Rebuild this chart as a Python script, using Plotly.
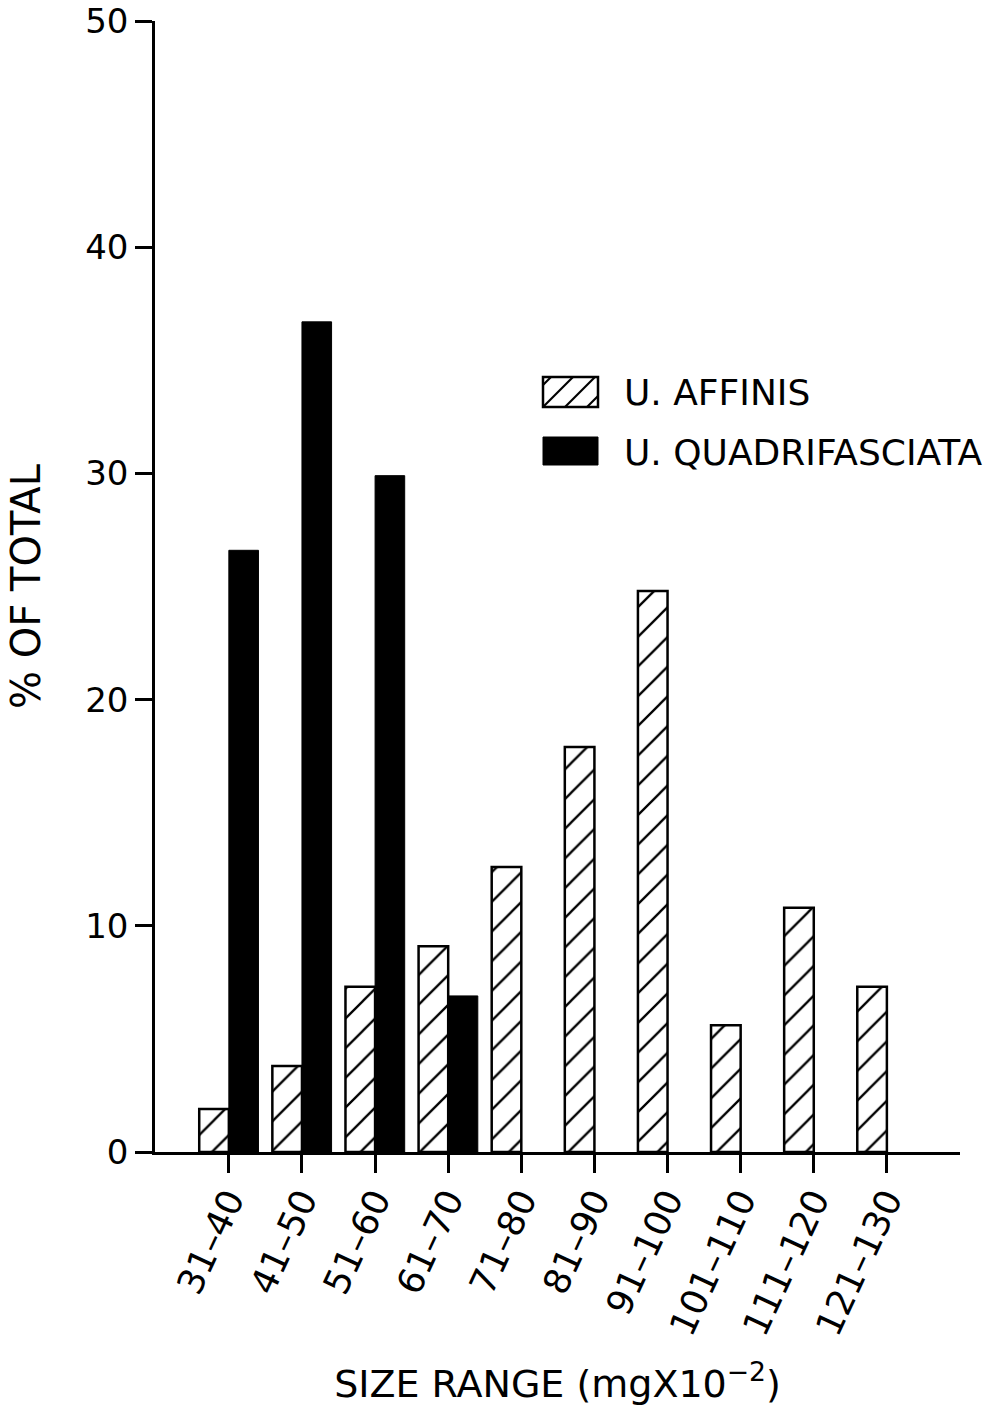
import plotly.graph_objects as go

categories = ["31–40", "41–50", "51–60", "61–70", "71–80", "81–90",
              "91–100", "101–110", "111–120", "121–130"]
affinis = [1.9, 3.8, 7.3, 9.1, 12.6, 17.9, 24.8, 5.6, 10.8, 7.3]
quadrifasciata = [26.6, 36.7, 29.9, 6.9, None, None, None, None, None, None]
y_ticks = [0, 10, 20, 30, 40, 50]
legend_labels = ["U. AFFINIS", "U. QUADRIFASCIATA"]

FONT = "DejaVu Sans"

fig = go.Figure()
fig.add_trace(go.Bar(
    x=categories, y=affinis, name=legend_labels[0],
    marker=dict(color="white", line=dict(color="black", width=2.5),
                pattern=dict(shape="/", fgcolor="black", fgopacity=1, bgcolor="white",
                             size=21, solidity=0.11)),
))
fig.add_trace(go.Bar(
    x=categories, y=quadrifasciata, name=legend_labels[1],
    marker=dict(color="black", line=dict(color="black", width=1)),
))

# plot area spans page px x 155..960, y 21..1152
PL, PR, PT, PB = 155, 960, 21, 1152
W, H = 994, 1419
L = dict(xref="paper", yref="paper")
def px_x(p):
    return (p - PL) / (PR - PL)
def px_y(p):
    return (PB - p) / (PB - PT)

shapes = [
    dict(type="rect", x0=px_x(543), x1=px_x(598), y0=px_y(407), y1=px_y(377),
         line=dict(color="black", width=2.5), fillcolor="white", **L),
    dict(type="rect", x0=px_x(543), x1=px_x(598), y0=px_y(465), y1=px_y(437),
         line=dict(color="black", width=1), fillcolor="black", **L),
]
for sx in [543, 565, 587]:
    x0 = sx
    x1 = min(sx + 30, 598)
    shapes.append(dict(type="line", x0=px_x(x0), x1=px_x(x1), y0=px_y(407),
                       y1=px_y(407 - (x1 - x0)),
                       line=dict(color="black", width=2.2), **L))
shapes.append(dict(type="line", x0=px_x(543), x1=px_x(551), y0=px_y(385), y1=px_y(377),
                   line=dict(color="black", width=2.2), **L))

annotations = [
    dict(text=legend_labels[0], x=px_x(622), y=px_y(393), xanchor="left", yanchor="middle",
         showarrow=False, font=dict(size=36, family=FONT, color="black"), **L),
    dict(text=legend_labels[1], x=px_x(622), y=px_y(452), xanchor="left", yanchor="middle",
         showarrow=False, font=dict(size=36, family=FONT, color="black"), **L),
]

fig.update_layout(
    width=W, height=H,
    paper_bgcolor="white", plot_bgcolor="white",
    margin=dict(l=PL, r=W - PR, t=PT, b=H - PB),
    barmode="group", bargap=0.19, bargroupgap=0,
    font=dict(family=FONT, color="black", size=30),
    showlegend=False,
    shapes=shapes, annotations=annotations,
)
fig.update_xaxes(
    type="category", range=[-1.01, 10.0], automargin=False,
    showline=True, linecolor="black", linewidth=2.5,
    ticks="outside", ticklen=18, tickwidth=2.5, tickcolor="black",
    tickangle=-65, tickfont=dict(size=36, family=FONT), ticklabelstandoff=-8,
    ticklabeloverflow="allow",
    showgrid=False, zeroline=False,
    title=dict(text="SIZE RANGE (mgX10<sup>−2</sup>)", font=dict(size=38, family=FONT), standoff=30),
)
fig.update_yaxes(
    range=[0, 50], tickvals=y_ticks, automargin=False,
    showline=True, linecolor="black", linewidth=2.5,
    ticks="outside", ticklen=17, tickwidth=2.5, tickcolor="black",
    tickfont=dict(size=34, family=FONT), ticklabeloverflow="allow",
    showgrid=False, zeroline=False,
    title=dict(text="% OF TOTAL", font=dict(size=40, family=FONT), standoff=33),
)

fig.write_html("out.html", config={"displayModeBar": False},
               post_script="document.body.style.margin='0';")
